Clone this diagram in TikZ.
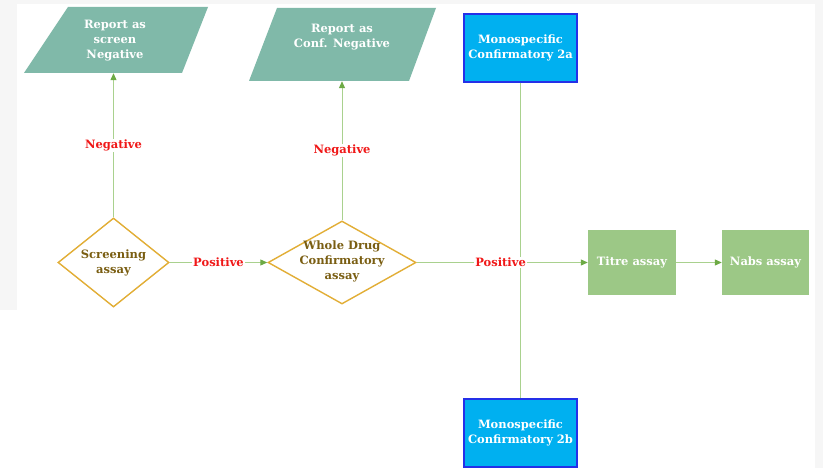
\documentclass[tikz,border=0pt]{standalone}
\usepackage{fontspec}
\setmainfont{DejaVu Serif}
\usetikzlibrary{shapes.geometric,arrows.meta}
\definecolor{bggray}{HTML}{F6F6F6}
\definecolor{teal1}{HTML}{80B9A9}
\definecolor{cyanbox}{HTML}{00B0F0}
\definecolor{blueedge}{HTML}{2430E8}
\definecolor{greenbox}{HTML}{9CC886}
\definecolor{linegreen}{HTML}{A9D18E}
\definecolor{arrowgreen}{HTML}{6DAA45}
\definecolor{goldedge}{HTML}{E2AE36}
\definecolor{olivetext}{HTML}{7A5E12}
\definecolor{redtext}{HTML}{F01818}
\tikzset{
  txt/.style={font=\bfseries\fontsize{11.5}{15}\selectfont, align=center, inner sep=0pt},
  wtxt/.style={txt, text=white},
  dtxt/.style={txt, text=olivetext},
  lbl/.style={font=\bfseries\fontsize{11.5}{13}\selectfont, text=redtext, fill=white, inner sep=1pt},
  dia/.style={diamond, draw=goldedge, line width=1.4pt, fill=white, inner sep=0pt},
  cbox/.style={rectangle, draw=blueedge, line width=1.4pt, fill=cyanbox, minimum width=113pt, minimum height=68pt, wtxt},
  gbox/.style={rectangle, fill=greenbox, minimum height=65pt, wtxt},
  conn/.style={draw=linegreen, line width=1pt},
  arr/.style={conn, -{Triangle[width=6pt,length=7pt,fill=arrowgreen,color=arrowgreen]}},
  pbox/.style={rectangle, inner sep=0pt},
}
\begin{document}
\begin{tikzpicture}[x=1pt,y=-1pt]
\useasboundingbox (0,0) rectangle (823,468);
\fill[bggray] (0,0) rectangle (823,468);
\fill[white] (17,4) rectangle (815,468);
\fill[white] (0,310) rectangle (17,468);

% parallelograms
\fill[teal1] (68,7) -- (208,7) -- (182,73) -- (24,73) -- cycle;
\node[pbox, minimum width=140pt, minimum height=66pt] (p1) at (113.5,40) {};
\node[wtxt] (p1t) at (115,41) {Report as\\screen\\Negative};

\fill[teal1] (277,8) -- (436,8) -- (409,81) -- (249,81) -- cycle;
\node[pbox, minimum width=160pt, minimum height=73pt] (p2) at (342,44.5) {};
\node[wtxt] (p2t) at (342,37) {Report as\\Conf. Negative};

% blue boxes
\node[cbox] (m2a) at (520.5,48) {Monospecific\\Confirmatory 2a};
\node[cbox] (m2b) at (520.5,433) {Monospecific\\Confirmatory 2b};

% diamonds
\node[dia, minimum width=111pt, minimum height=89pt] (d1) at (113.5,262.5) {};
\node[dtxt] at (d1.center) {Screening\\assay};
\node[dia, minimum width=148pt, minimum height=83pt] (d2) at (342,262.5) {};
\node[dtxt] at (342,261) {Whole Drug\\Confirmatory\\assay};

% green boxes
\node[gbox, minimum width=88pt] (titre) at (632,262.5) {Titre assay};
\node[gbox, minimum width=87pt] (nabs) at (765.5,262.5) {Nabs assay};

% connectors
\draw[conn] (m2a.south) -- (m2b.north);
\draw[arr] (d1.north) -- node[lbl] {Negative} (p1.south);
\draw[arr] (d2.north) -- node[lbl] {Negative} (p2.south);
\draw[arr] (d1.east) -- node[lbl] {Positive} (d2.west);
\draw[arr] (d2.east) -- node[lbl, pos=0.49] {Positive} (titre.west);
\draw[arr] (titre.east) -- (nabs.west);
\end{tikzpicture}
\end{document}
